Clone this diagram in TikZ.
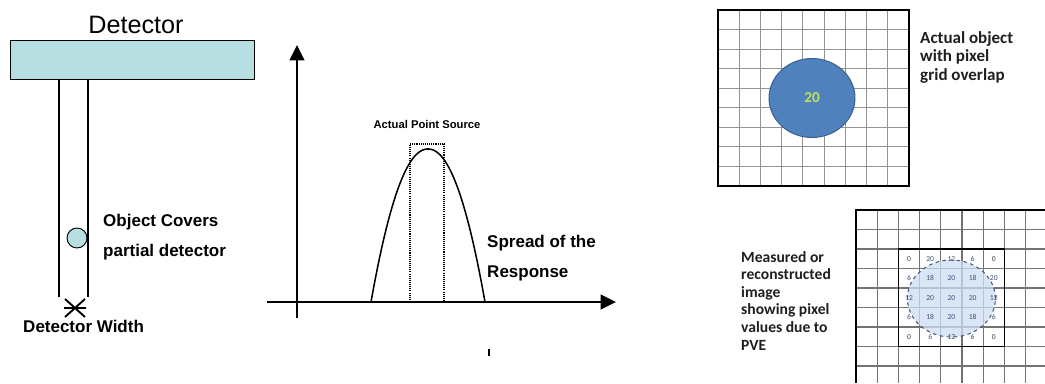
\documentclass[tikz,border=0pt]{standalone}
\usepackage{fontspec}
\setmainfont{Liberation Sans}
\newfontfamily\calibri{Carlito}
\usetikzlibrary{positioning,arrows.meta,shapes.geometric}
\definecolor{detTeal}{RGB}{183,222,224}
\definecolor{objBlue}{RGB}{79,129,189}
\definecolor{objEdge}{RGB}{56,93,138}
\definecolor{pveFill}{RGB}{205,222,242}
\definecolor{pveEdge}{RGB}{70,90,125}
\definecolor{pixNum}{RGB}{60,80,120}
\definecolor{twentyGreen}{RGB}{190,225,90}

\begin{document}
\begin{tikzpicture}[x=0.03cm, y=-0.03cm ,
detBar/.style={rectangle, draw, fill=detTeal, line width=0.8pt, minimum width=7.32cm, minimum height=1.17cm, inner sep=0pt} ,
objDot/.style={circle, draw, fill=detTeal, line width=0.8pt, minimum size=0.6cm, inner sep=0pt} ,
lbl/.style={font=\fontsize{14.5}{25.5}\selectfont\bfseries, align=left, inner sep=0pt} ,
note/.style={align=left, inner sep=0pt, text=black!88} ,
wall/.style={line width=1.3pt} ,
axis/.style={line width=1.7pt, -{Triangle[length=0.46cm, width=0.44cm]}} ,
topGrid/.style={line width=0.9pt, black!42} ,
botGrid/.style={line width=0.9pt, black!55} ,
objEllipse/.style={ellipse, draw=objEdge, fill=objBlue, line width=0.8pt, minimum width=2.58cm, minimum height=2.37cm, inner sep=0pt, font=\calibri\fontsize{13}{13}\selectfont\bfseries, text=twentyGreen} ,
pveDisc/.style={ellipse, draw=pveEdge, fill=pveFill, fill opacity=0.75, dashed, line width=0.9pt, minimum width=2.64cm, minimum height=2.31cm, inner sep=0pt} ,
pix/.style={minimum width=0.636cm, minimum height=0.585cm, inner sep=0pt, font=\calibri\fontsize{6.5}{6.5}\selectfont, text=pixNum} ,
pixZero/.style={pix, text=black!75}
]
\useasboundingbox (0,0) rectangle (1045,383) ;

\node [detBar] (bar) at (132,59.5) {} ;
\node [font=\fontsize{21.5}{24}\selectfont] (detName) at (136,25) {Detector} ;
\coordinate (wallL) at (59,297) ;
\coordinate (wallR) at (88,297) ;
\draw [wall] (bar.south -| wallL) -- (wallL) ;
\draw [wall] (bar.south -| wallR) -- (wallR) ;
\node [objDot] (obj) at (77,238) {} ;
\node [lbl, anchor=north west] (objNote) at (103,214) {Object Covers\\partial detector} ;
\coordinate (widthMark) at (75,308) ;
\draw [line width=1.6pt] ([shift={(-10,-9)}]widthMark) -- ([shift={(10,9)}]widthMark)
  ([shift={(10,-9)}]widthMark) -- ([shift={(-10,9)}]widthMark)
  ([shift={(-11,0)}]widthMark) -- ([shift={(11,0)}]widthMark) ;
\node [lbl, anchor=base west] (widthNote) at (23,332) {Detector Width} ;

\coordinate (yBot) at (297,318) ;
\coordinate (yTop) at (297,45) ;
\coordinate (xBeg) at (267,302) ;
\coordinate (xEnd) at (616,302) ;
\draw [axis] (yBot) -- (yTop) ;
\draw [axis] (xBeg) -- (xEnd) ;
\draw [line width=1.3pt] plot [domain=-1:1, samples=80, smooth] ({428+57*\x},{302-153*(1-abs(\x)^2.1)}) ;
\coordinate (srcL) at (410,302) ;
\coordinate (srcR) at (444,302) ;
\coordinate (srcTop) at (427,144) ;
\draw [line width=0.9pt, dash pattern=on 0.9pt off 0.9pt] (srcL) |- (srcTop) -| (srcR) ;
\node [lbl, font=\fontsize{9.6}{11}\selectfont\bfseries, anchor=base] (srcNote) at (427,128) {Actual Point Source} ;
\node [lbl, anchor=north west] (spreadNote) at (487,235) {Spread of the\\Response} ;
\coordinate (tickA) at (489,349) ;
\coordinate (tickB) at (489,356) ;
\draw [line width=1.2pt] (tickA) -- (tickB) ;

\foreach \i in {1,...,8} {
  \draw [topGrid] ({718+21.22*\i},10) -- ({718+21.22*\i},186) ;
  \draw [topGrid] (718,{10+19.55*\i}) -- (909,{10+19.55*\i}) ;
}
\draw [line width=1pt] (718,10) rectangle (909,186) ;
\node [objEllipse] (objDisc) at (812,98) {20} ;
\node [note, font=\calibri\fontsize{14.5}{15.8}\selectfont\bfseries, anchor=north west] (objText) at (920,31) {Actual object\\with pixel\\grid overlap} ;

\foreach \i in {1,...,8} {
  \draw [botGrid] ({856+21.2*\i},210) -- ({856+21.2*\i},383) ;
  \draw [botGrid] (856,{210+19.5*\i}) -- (1045,{210+19.5*\i}) ;
}
\draw [line width=1pt] (856,383) -- (856,210) -- (1045,210) ;
\draw [line width=1.1pt] (898.4,249) rectangle (1004.4,346.5) ;
\node [pveDisc] (pve) at (951.4,298.5) {} ;
\matrix (pveVals) at (951.4,297.75) [row sep=0pt, column sep=0pt, inner sep=0pt] {
    \node [pixZero] {0} ; & \node [pix] {20} ; & \node [pix] {12} ; & \node [pix] {6} ; & \node [pixZero] {0} ; \\
    \node [pix] {6} ; & \node [pix] {18} ; & \node [pix] {20} ; & \node [pix] {18} ; & \node [pix] {20} ; \\
    \node [pix] {12} ; & \node [pix] {20} ; & \node [pix] {20} ; & \node [pix] {20} ; & \node [pix] {12} ; \\
    \node [pix] {6} ; & \node [pix] {18} ; & \node [pix] {20} ; & \node [pix] {18} ; & \node [pix] {6} ; \\
    \node [pixZero] {0} ; & \node [pix] {6} ; & \node [pix] {12} ; & \node [pix] {6} ; & \node [pixZero] {0} ; \\
} ;
\node [note, font=\calibri\fontsize{13.3}{15}\selectfont\bfseries, anchor=north west] (pveText) at (741,251) {Measured or\\reconstructed\\image\\showing pixel\\values due to\\PVE} ;
\end{tikzpicture}
\end{document}
